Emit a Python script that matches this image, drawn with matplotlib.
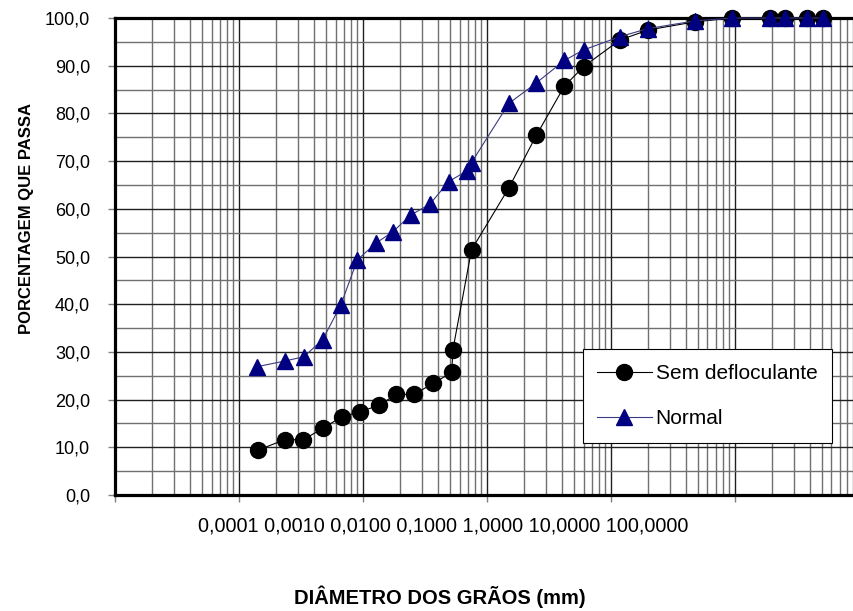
import matplotlib.pyplot as plt
from matplotlib.ticker import FixedLocator, LogLocator, NullFormatter

# diameters (mm) and percentage passing
sem_diam = [0.00142, 0.00233, 0.00330, 0.00475, 0.00673, 0.00951, 0.0135, 0.0184,
            0.0258, 0.0367, 0.052, 0.053, 0.075, 0.15, 0.25, 0.42, 0.60, 1.18,
            2.0, 4.75, 9.5, 19.0, 25.4, 38.1, 50.8]
sem_pass = [9.4, 11.6, 11.6, 14.0, 16.4, 17.5, 18.8, 21.1,
            21.1, 23.4, 25.7, 30.4, 51.4, 64.4, 75.4, 85.7, 89.8, 95.4,
            97.5, 99.2, 100.0, 100.0, 100.0, 100.0, 100.0]

normal_diam = [0.00139, 0.00235, 0.00334, 0.00473, 0.00661, 0.00900, 0.0127, 0.0174,
               0.0243, 0.0347, 0.0490, 0.0692, 0.075, 0.15, 0.25, 0.42, 0.60, 1.18,
               2.0, 4.75, 9.5, 19.0, 25.4, 38.1, 50.8]
normal_pass = [26.9, 28.1, 29.0, 32.6, 39.8, 49.3, 52.8, 55.2,
               58.7, 61.0, 65.7, 68.0, 69.7, 82.1, 86.4, 91.1, 93.3, 96.1,
               97.8, 99.4, 100.0, 100.0, 100.0, 100.0, 100.0]

x_tick_labels = ["0,0001", "0,0010", "0,0100", "0,1000", "1,0000", "10,0000", "100,0000"]
y_ticks = [0, 10, 20, 30, 40, 50, 60, 70, 80, 90, 100]

plt.rcParams["font.family"] = ["Liberation Sans", "DejaVu Sans"]

fig = plt.figure(figsize=(8.54, 6.11), dpi=100)
ax = fig.add_axes([0.1347, 0.1898, 0.8653, 0.7807])

ax.plot(sem_diam, sem_pass, color="black", lw=0.8, marker="o", ms=11.5,
        mfc="black", mec="black", label="Sem defloculante", clip_on=False, zorder=4)
ax.plot(normal_diam, normal_pass, color="#3a3a80", lw=0.8, marker="^", ms=11.5,
        mfc="#000080", mec="#000080", label="Normal", clip_on=False, zorder=5)

ax.set_xscale("log")
ax.set_xlim(1e-4, 10 ** (-4 + 739 / 124))
ax.set_ylim(0, 100)

ax.xaxis.set_major_locator(LogLocator(base=10, numticks=20))
ax.xaxis.set_minor_locator(LogLocator(base=10, subs=range(2, 10), numticks=100))
ax.xaxis.set_major_formatter(NullFormatter())
ax.xaxis.set_minor_formatter(NullFormatter())
ax.set_yticks(y_ticks)
ax.set_yticklabels([f"{v:.1f}".replace(".", ",") for v in y_ticks], fontsize=13)
ax.yaxis.set_minor_locator(FixedLocator([v + 5 for v in y_ticks[:-1]]))

ax.grid(which="major", axis="both", color="#202020", lw=1.0)
ax.grid(which="minor", axis="both", color="#707070", lw=1.0)
ax.set_axisbelow(True)

ax.tick_params(axis="x", which="major", length=5, color="#808080", width=1)
ax.tick_params(axis="x", which="minor", length=0)
ax.tick_params(axis="y", which="major", length=5, color="#808080", width=1, pad=13)
ax.tick_params(axis="y", which="minor", length=0)

for side in ["left", "top", "bottom"]:
    ax.spines[side].set_linewidth(2.3)
    ax.spines[side].set_color("black")
ax.spines["right"].set_visible(False)

ax.text(0.4445, -0.065, " ".join(x_tick_labels), transform=ax.transAxes,
        ha="center", va="center", fontsize=14.3)

fig.text(0.515, 0.023, "DIÂMETRO DOS GRÃOS (mm)", ha="center", va="center",
         fontsize=14.5, fontweight="bold")
fig.text(0.031, 0.643, "PORCENTAGEM QUE PASSA", ha="center", va="center",
         rotation=90, fontsize=12, fontweight="bold")

leg = ax.legend(loc="upper left", bbox_to_anchor=(0.633, 0.3055), fontsize=15,
                frameon=True, fancybox=False, framealpha=1, edgecolor="black",
                handlelength=2.6, handletextpad=0.2, labelspacing=1.25,
                borderpad=0.7, borderaxespad=0)
leg.get_frame().set_linewidth(0.8)

fig.savefig("out.png", dpi=100)
